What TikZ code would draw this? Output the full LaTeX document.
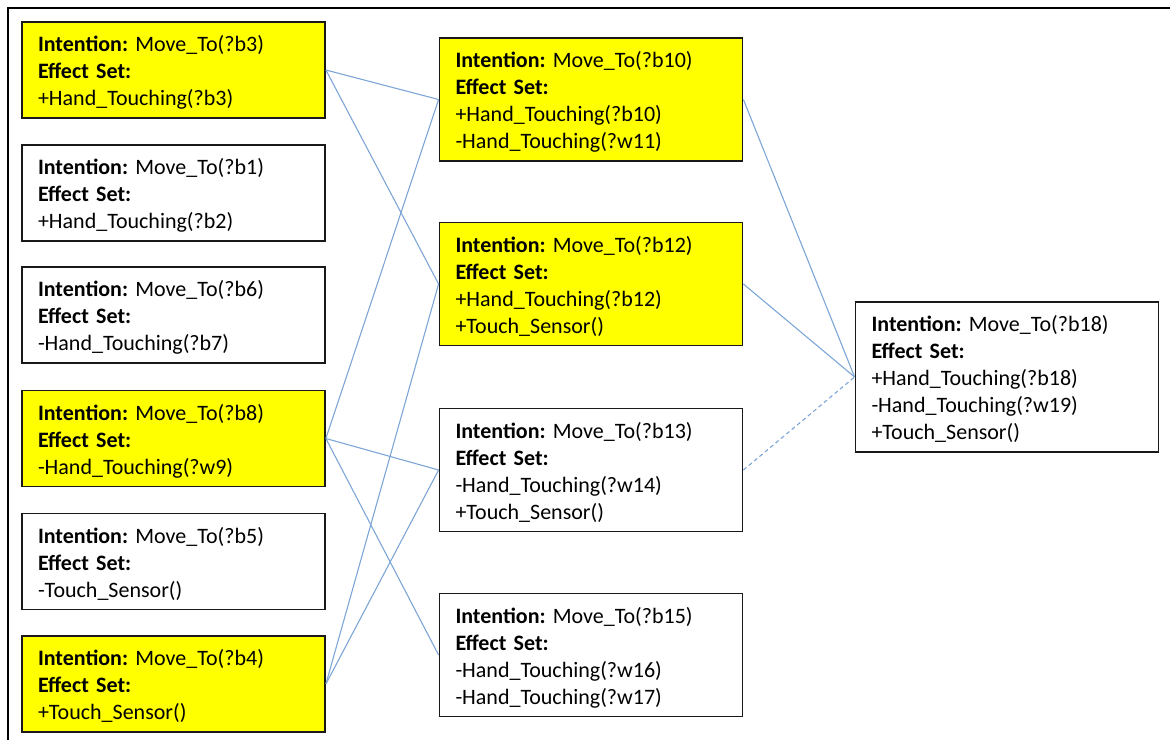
\documentclass[tikz,border=0pt]{standalone}
\usepackage{fontspec}
\setmainfont{Carlito}
\frenchspacing
\definecolor{linkblue}{RGB}{125,166,214}
\definecolor{boxline}{RGB}{25,25,25}
\definecolor{hilite}{RGB}{255,255,0}
\begin{document}
\begin{tikzpicture}[x=1pt,y=-1pt,
  box/.style={draw=boxline, line width=1.8pt, rectangle, minimum width=303pt,
    text width=271pt, inner xsep=16pt, inner ysep=0pt, align=left,
    font=\fontsize{22}{27}\selectfont,
    execute at begin node={\rule{0pt}{21pt}}},
  tall3/.style={box, minimum height=96pt},
  tall4/.style={box, minimum height=123pt},
  tall5/.style={box, minimum height=150pt},
  hit/.style={fill=hilite},
  link/.style={draw=linkblue, line width=1.1pt},
  dlink/.style={link, dashed, dash pattern=on 4pt off 3pt}]
\useasboundingbox (0,0) rectangle (1170,740);
% frame: top and left edges only
\draw[line width=2.5pt] (8,740) -- (8,8) -- (1170,8);

% first column
\node[tall3, hit] (b3) at (173.5,70) {\textbf{Intention:} Move\_To(?b3)\\\textbf{Effect Set:}\\+Hand\_Touching(?b3)};
\node[tall3] (b1) at (173.5,193) {\textbf{Intention:} Move\_To(?b1)\\\textbf{Effect Set:}\\+Hand\_Touching(?b2)};
\node[tall3] (b6) at (173.5,315) {\textbf{Intention:} Move\_To(?b6)\\\textbf{Effect Set:}\\-Hand\_Touching(?b7)};
\node[tall3, hit] (b8) at (173.5,438.5) {\textbf{Intention:} Move\_To(?b8)\\\textbf{Effect Set:}\\-Hand\_Touching(?w9)};
\node[tall3] (b5) at (173.5,561.5) {\textbf{Intention:} Move\_To(?b5)\\\textbf{Effect Set:}\\-Touch\_Sensor()};
\node[tall3, hit] (b4) at (173.5,684) {\textbf{Intention:} Move\_To(?b4)\\\textbf{Effect Set:}\\+Touch\_Sensor()};

% second column
\node[tall4, hit] (b10) at (591,99.5) {\textbf{Intention:} Move\_To(?b10)\\\textbf{Effect Set:}\\+Hand\_Touching(?b10)\\-Hand\_Touching(?w11)};
\node[tall4, hit] (b12) at (591,284) {\textbf{Intention:} Move\_To(?b12)\\\textbf{Effect Set:}\\+Hand\_Touching(?b12)\\+Touch\_Sensor()};
\node[tall4] (b13) at (591,470) {\textbf{Intention:} Move\_To(?b13)\\\textbf{Effect Set:}\\-Hand\_Touching(?w14)\\+Touch\_Sensor()};
\node[tall4] (b15) at (591,655) {\textbf{Intention:} Move\_To(?b15)\\\textbf{Effect Set:}\\-Hand\_Touching(?w16)\\-Hand\_Touching(?w17)};

% third column
\node[tall5] (b18) at (1007,377) {\textbf{Intention:} Move\_To(?b18)\\\textbf{Effect Set:}\\+Hand\_Touching(?b18)\\-Hand\_Touching(?w19)\\+Touch\_Sensor()};

% links
\draw[link] (b3.east) -- (b10.west);
\draw[link] (b3.east) -- (b12.west);
\draw[link] (b8.east) -- (b10.west);
\draw[link] (b8.east) -- (b13.west);
\draw[link] (b8.east) -- (b15.west);
\draw[link] (b4.east) -- (b12.west);
\draw[link] (b4.east) -- (b13.west);
\draw[link] (b10.east) -- (b18.west);
\draw[link] (b12.east) -- (b18.west);
\draw[dlink] (b13.east) -- (b18.west);
\end{tikzpicture}
\end{document}
